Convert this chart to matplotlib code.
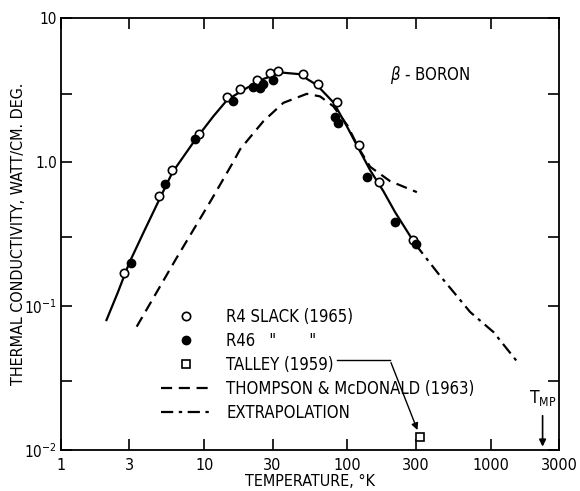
import matplotlib.pyplot as plt
from matplotlib.lines import Line2D

plt.rcParams['font.family'] = ['DejaVu Sans']
plt.rcParams['font.stretch'] = 'condensed'
plt.rcParams['mathtext.fontset'] = 'dejavusans'

# R4 Slack (1965) - open circles
r4_t = [2.77, 4.81, 5.99, 9.25, 14.4, 17.8, 23.3, 28.7, 32.6, 48.7, 62.6, 84.2, 121, 166, 288]
r4_k = [0.17, 0.58, 0.89, 1.57, 2.86, 3.23, 3.75, 4.17, 4.33, 4.13, 3.52, 2.61, 1.31, 0.73, 0.29]

# R46 - filled circles
r46_t = [3.08, 5.35, 8.58, 16.0, 21.8, 24.5, 25.9, 30.4, 81.9, 86.4, 136, 215, 300]
r46_k = [0.20, 0.71, 1.46, 2.65, 3.32, 3.28, 3.52, 3.71, 2.07, 1.88, 0.79, 0.383, 0.27]

# Talley (1959)
talley_t = [321]
talley_k = [0.0123]

# smooth curve through Slack data
fit_t = [2.08, 2.5, 3.0, 3.8, 4.9, 6.0, 8.6, 11.6, 14.5, 20, 26, 35, 46, 61, 80, 99, 122, 144, 178, 215, 297]
fit_k = [0.080, 0.125, 0.20, 0.33, 0.56, 0.85, 1.42, 2.09, 2.72, 3.3, 3.8, 4.2, 4.1, 3.45, 2.6, 1.78, 1.2, 0.88, 0.63, 0.45, 0.27]

# Thompson & McDonald (1963)
tm_t = [3.38, 6.36, 11.3, 15.9, 17.8, 25.9, 35.7, 52, 64.4, 79.7, 100, 120, 144, 198, 305]
tm_k = [0.072, 0.213, 0.555, 1.0, 1.23, 1.93, 2.59, 2.99, 2.87, 2.45, 1.8, 1.25, 0.93, 0.74, 0.62]

# extrapolation
ext_t = [297, 431, 718, 1045, 1515]
ext_k = [0.27, 0.168, 0.091, 0.066, 0.0416]

x_ticks = [1, 3, 10, 30, 100, 300, 1000, 3000]
x_labels = ['1', '3', '10', '30', '100', '300', '1000', '3000']
y_ticks = [0.01, 0.03, 0.1, 0.3, 1, 3, 10]
y_labels = ['$10^{-2}$', '', '$10^{-1}$', '', '1.0', '', '10']

fig = plt.figure(figsize=(5.8, 4.91), dpi=100)
ax = fig.add_axes([0.105, 0.0835, 0.859, 0.879])

ax.plot(fit_t, fit_k, color='black', lw=1.6)
ax.plot(tm_t, tm_k, color='black', lw=1.6, dashes=(5, 3))
ax.plot(ext_t, ext_k, color='black', lw=1.6, dashes=(5.5, 2.5, 1.5, 2.5))
ax.plot(r4_t, r4_k, 'o', mfc='white', mec='black', mew=1.2, ms=6)
ax.plot(r46_t, r46_k, 'o', mfc='black', mec='black', ms=6)
ax.plot(talley_t, talley_k, 's', mfc='white', mec='black', mew=1.2, ms=6)

ax.set_xscale('log')
ax.set_yscale('log')
ax.set_xlim(1, 3000)
ax.set_ylim(0.01, 10)
ax.set_xticks(x_ticks)
ax.set_xticklabels(x_labels)
ax.set_yticks(y_ticks)
ax.set_yticklabels(y_labels)
ax.minorticks_off()
ax.tick_params(direction='in', length=8, width=1.2, top=True, right=True, labelsize=11.5, pad=6)
ax.tick_params(axis='y', labelsize=11, pad=3)
for s in ax.spines.values():
    s.set_linewidth(1.3)

ax.set_xlabel('TEMPERATURE, °K', fontsize=11.5, va='center')
ax.xaxis.set_label_coords(0.5, -0.072)
ax.set_ylabel('THERMAL CONDUCTIVITY, WATT/CM. DEG.', fontsize=11.5, va='center')
ax.yaxis.set_label_coords(-0.085, 0.5)

ax.text(198, 4.06, r'$\beta$ - BORON', fontsize=12, va='center')

handles = [
    Line2D([], [], ls='none', marker='o', mfc='white', mec='black', mew=1.2, ms=6),
    Line2D([], [], ls='none', marker='o', mfc='black', mec='black', ms=6),
    Line2D([], [], ls='none', marker='s', mfc='white', mec='black', mew=1.2, ms=6),
    Line2D([], [], color='black', lw=1.6, dashes=(5, 3)),
    Line2D([], [], color='black', lw=1.6, dashes=(5.5, 2.5, 1.5, 2.5)),
]
labels = ['R4 SLACK (1965)', 'R46   "       "', 'TALLEY (1959)',
          'THOMPSON & McDONALD (1963)', 'EXTRAPOLATION']
ax.legend(handles, labels, loc='upper left', bbox_to_anchor=(0.2, 0.33), frameon=False,
          fontsize=12, handlelength=3.0, handletextpad=0.95, labelspacing=0.36,
          borderpad=0, borderaxespad=0)

# Talley pointer
ax.plot([84.2, 198], [0.0422, 0.0422], color='black', lw=1.0)
ax.annotate('', xy=(313, 0.0132), xytext=(198, 0.0422),
            arrowprops=dict(arrowstyle='-|>', color='black', lw=1.0, mutation_scale=10))

# melting point marker
ax.annotate('', xy=(2300, 0.0101), xytext=(2300, 0.0181),
            arrowprops=dict(arrowstyle='-|>', color='black', lw=1.2, mutation_scale=10))
ax.text(2300, 0.0195, r'T$_{\mathrm{MP}}$', fontsize=12.5, ha='center', va='bottom')

fig.savefig('out.png', dpi=100)
